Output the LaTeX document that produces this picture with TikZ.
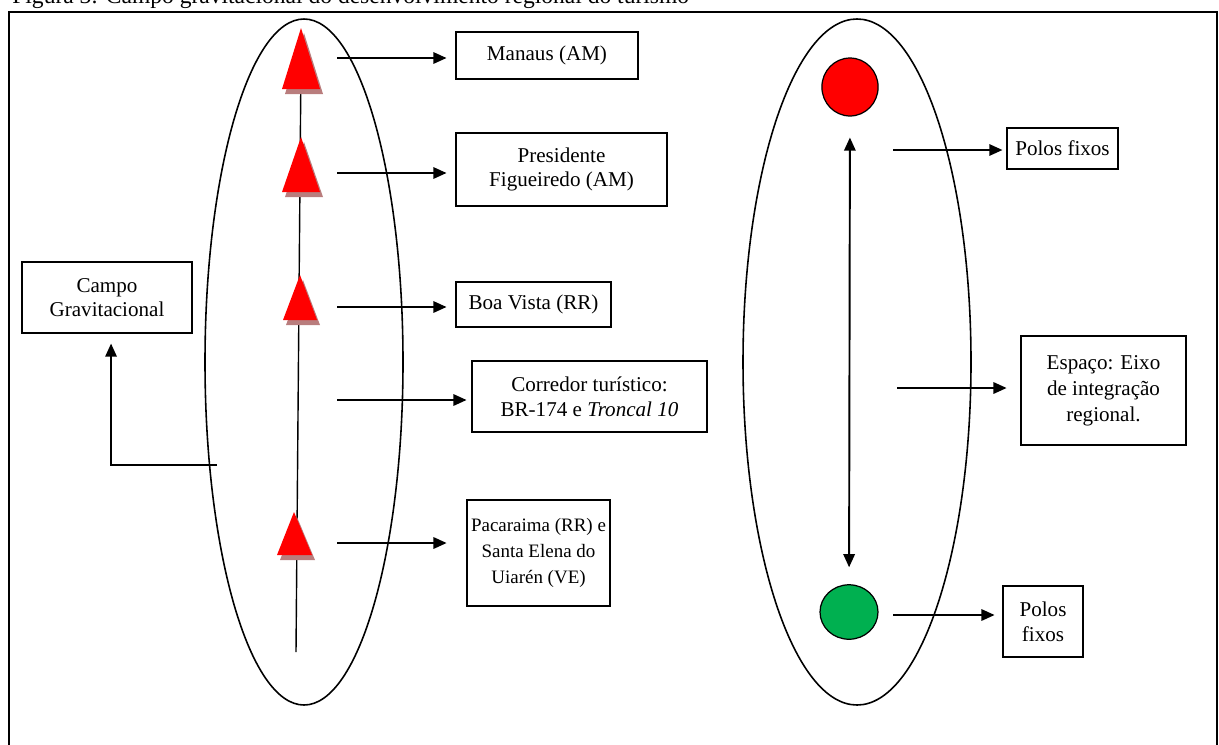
\documentclass[tikz,border=0pt]{standalone}
\usepackage{fontspec}
\setmainfont{Liberation Serif}
\usetikzlibrary{arrows.meta,shapes.geometric,fit}
\definecolor{tshadow}{RGB}{185,125,125}
\begin{document}
\begin{tikzpicture}[x=0.02cm,y=-0.02cm,
  every node/.style={font=\fontsize{12}{14}\selectfont},
  box/.style={draw, line width=0.6pt, inner sep=0pt},
  txt/.style={align=center, inner sep=0pt},
  arr/.style={line width=1.1pt, -{Triangle[length=7.5pt,width=6.5pt]}},
  darr/.style={line width=1.1pt, {Triangle[length=7.5pt,width=6.5pt]}-{Triangle[length=7.5pt,width=6.5pt]}},
  oval/.style={line width=0.9pt},
  tri/.style={fill=red},
  trishadow/.style={fill=tshadow}]
\useasboundingbox (0,0) rectangle (1219,744);
% caption (clipped at top)
\node[anchor=base west, inner sep=0pt, font=\fontsize{13.4}{15}\selectfont] (caption) at (12,3) {Figura 3: Campo gravitacional do desenvolvimento regional do turismo};
% frame
\draw[line width=1.1pt] (9,800) -- (9,12) -- (1217,12) -- (1217,800);
% ellipses
\draw[oval] (304,362) ellipse [x radius=99, y radius=343];
\draw[oval] (857,362) ellipse [x radius=114, y radius=343];
% axis line
\draw[line width=0.8pt] (296,652) -- (301,60);
% triangles with shadow
\foreach \ax/\ay/\lx/\rx/\by in {301/28/282/320/89, 301/137/282/320/192, 300/275/283/317/320, 294/512/277/312/555}{
  \fill[trishadow] (\ax+3,\ay+5) -- (\lx+3,\by+5) -- (\rx+3,\by+5) -- cycle;
  \fill[tri] (\ax,\ay) -- (\lx,\by) -- (\rx,\by) -- cycle;
}
% boxes left
\node[box, fit={(456,32)(638,79)}] (manaus) {};
\node[txt] (manausT) at (manaus.center) {Manaus (AM)};
\node[box, fit={(456,133)(667,206)}] (pres) {};
\node[txt] (presT) at (pres.center) {Presidente\\Figueiredo (AM)};
\node[box, fit={(456,282)(611,327)}] (boa) {};
\node[txt] (boaT) at (boa.center) {Boa Vista (RR)};
\node[box, fit={(472,361)(707,432)}] (corr) {};
\node[txt] (corrT) at (corr.center) {Corredor turístico:\\BR-174 e \textit{Troncal 10}};
\node[box, fit={(467,500)(610,606)}] (paca) {};
\node[txt, font=\fontsize{10.8}{14.6}\selectfont] (pacaT) at (paca.center) {Pacaraima (RR) e\\Santa Elena do\\Uiarén (VE)};
\node[box, fit={(22,262)(192,333)}] (campo) {};
\node[txt, font=\fontsize{12}{13.6}\selectfont] (campoT) at (campo.center) {Campo\\Gravitacional};
% boxes right
\node[box, fit={(1007,128)(1118,169)}] (polos1) {};
\node[txt] (polos1T) at (polos1.center) {Polos fixos};
\node[box, fit={(1021,336)(1186,445)}] (espaco) {};
\node[txt, font=\fontsize{12}{14.8}\selectfont] (espacoT) at (espaco.center) {Espaço: Eixo\\de integração\\regional.};
\node[box, fit={(1003,586)(1083,657)}] (polos2) {};
\node[txt] (polos2T) at (polos2.center) {Polos\\fixos};
% circles
\node[ellipse, draw, line width=0.7pt, fill=red, minimum width=32pt, minimum height=33pt, inner sep=0pt] (red) at (850,87) {};
\node[ellipse, draw, line width=0.7pt, fill={rgb,255:red,0;green,176;blue,80}, minimum width=33pt, minimum height=31pt, inner sep=0pt] (green) at (849,612) {};
% start coordinates
\coordinate (s1) at (337,58);
\coordinate (s2) at (337,173);
\coordinate (s3) at (337,307);
\coordinate (s4) at (337,400);
\coordinate (s5) at (337,543);
\coordinate (cg) at (217,465);
\coordinate (r1) at (893,150);
\coordinate (r2) at (897,388);
\coordinate (r3) at (893,615);
% arrows
\draw[arr, shorten >=5.1pt] (s1) -- (s1 -| manaus.west);
\draw[arr, shorten >=5.1pt] (s2) -- (s2 -| pres.west);
\draw[arr, shorten >=5.1pt] (s3) -- (s3 -| boa.west);
\draw[arr, shorten >=2.8pt] (s4) -- (s4 -| corr.west);
\draw[arr, shorten >=11.3pt] (s5) -- (s5 -| paca.west);
\draw[arr, shorten >=5.7pt] (cg) -| ([xshift=2.3pt]campo.south);
\draw[arr, shorten >=2.3pt] (r1) -- (r1 -| polos1.west);
\draw[arr, shorten >=7.9pt] (r2) -- (r2 -| espaco.west);
\draw[arr, shorten >=4.5pt] (r3) -- (r3 -| polos2.west);
\draw[darr, shorten <=11.9pt, shorten >=9.6pt] (red) -- (green);
\end{tikzpicture}
\end{document}
